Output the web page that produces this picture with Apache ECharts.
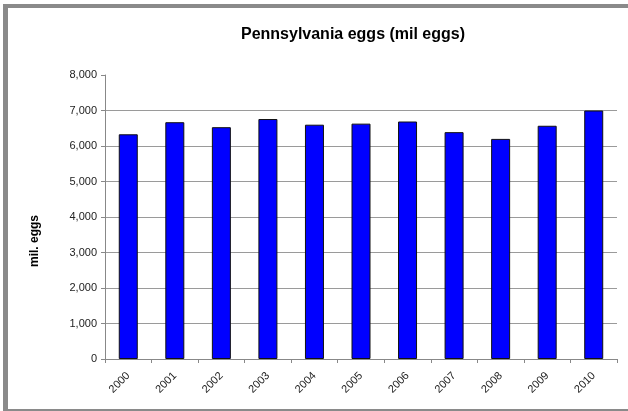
<!DOCTYPE html>
<html>
<head>
<meta charset="utf-8">
<script src="https://cdn.jsdelivr.net/npm/echarts@6/dist/echarts.min.js"></script>
<style>
  html, body { margin: 0; padding: 0; background: #fff; }
  #chart { width: 628px; height: 411px; }
</style>
</head>
<body>
<div id="chart"></div>
<script>
// Annual egg production in Pennsylvania, millions of eggs
const years = ['2000', '2001', '2002', '2003', '2004', '2005', '2006', '2007', '2008', '2009', '2010'];
const eggs = [6330, 6670, 6530, 6760, 6600, 6630, 6690, 6390, 6200, 6570, 7000];
const yTicks = [0, 1000, 2000, 3000, 4000, 5000, 6000, 7000, 8000];

const FONT = '"Liberation Sans", Arial, sans-serif';
const frameColor = '#8a8a8a';

const chart = echarts.init(document.getElementById('chart'), null, { renderer: 'canvas' });

chart.setOption({
  animation: false,
  backgroundColor: '#fff',
  textStyle: { fontFamily: FONT },
  title: {
    text: 'Pennsylvania eggs (mil eggs)',
    left: 348,
    textAlign: 'center',
    top: 22,
    textStyle: { fontFamily: FONT, fontSize: 16, fontWeight: 'bold', color: '#000' }
  },
  grid: { left: 105, right: 11, top: 75, bottom: 52, containLabel: false },
  xAxis: {
    type: 'category',
    data: years,
    axisLine: { show: true, lineStyle: { color: '#888', width: 1 } },
    axisTick: { show: true, length: 4, alignWithLabel: false, lineStyle: { color: '#888' } },
    axisLabel: {
      rotate: 45,
      margin: 15,
      fontFamily: FONT,
      fontSize: 11,
      color: '#222'
    },
    splitLine: { show: false }
  },
  yAxis: {
    type: 'value',
    min: yTicks[0],
    max: yTicks[yTicks.length - 1],
    interval: 1000,
    axisLine: { show: true, lineStyle: { color: '#888', width: 1 } },
    axisTick: { show: true, length: 4, lineStyle: { color: '#888' } },
    axisLabel: {
      margin: 8,
      fontFamily: FONT,
      fontSize: 11,
      color: '#222',
      formatter: v => v.toLocaleString('en-US')
    },
    splitLine: {
      show: true,
      showMinLine: false,
      showMaxLine: false,
      lineStyle: { color: '#9a9a9a', width: 1 }
    }
  },
  series: [{
    type: 'bar',
    data: eggs,
    barWidth: 19,
    itemStyle: { color: '#0000ff', borderColor: '#111', borderWidth: 1 }
  }],
  graphic: [
    // frame around the chart area
    { type: 'rect', shape: { x: 3, y: 4, width: 625, height: 4 }, style: { fill: frameColor }, silent: true },
    { type: 'rect', shape: { x: 3, y: 4, width: 5, height: 407 }, style: { fill: frameColor }, silent: true },
    { type: 'rect', shape: { x: 3, y: 409, width: 625, height: 2 }, style: { fill: frameColor }, silent: true },
    // y axis title
    {
      type: 'text',
      x: 35,
      y: 241,
      rotation: Math.PI / 2,
      style: {
        text: 'mil. eggs',
        fontFamily: FONT,
        fontSize: 12,
        fontWeight: 'bold',
        fill: '#000',
        align: 'center',
        verticalAlign: 'middle'
      }
    }
  ]
});
</script>
</body>
</html>
